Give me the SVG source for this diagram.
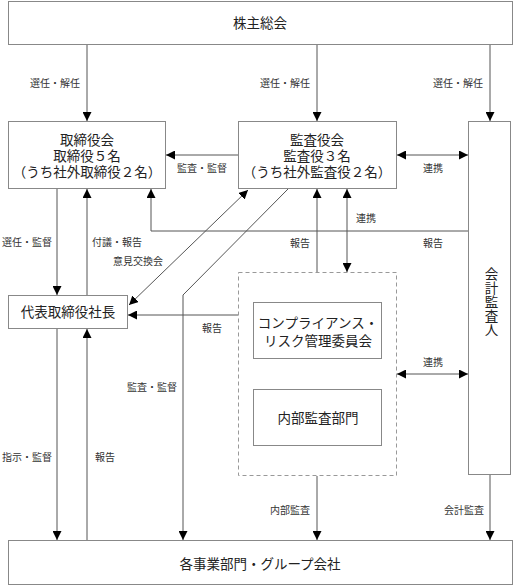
<svg xmlns="http://www.w3.org/2000/svg" width="514" height="586" viewBox="0 0 514 586">
<style>
.box{fill:#fff;stroke:#888;stroke-width:1}
.dash{fill:none;stroke:#999;stroke-width:1;stroke-dasharray:4,3}
.ln{fill:none;stroke:#555;stroke-width:1}
.t{font-family:"Liberation Serif","Noto Sans CJK JP",serif;font-size:13.5px;fill:#222;text-anchor:middle}
.v{font-family:"Liberation Serif","Noto Sans CJK JP",serif;font-size:13.5px;fill:#222;writing-mode:vertical-rl;text-anchor:start;letter-spacing:0.5px}
.l{font-family:"Liberation Serif","Noto Sans CJK JP",serif;font-size:10px;fill:#333}
.e{marker-end:url(#ah)}
.b{marker-start:url(#ah);marker-end:url(#ah)}
</style>
<defs>
<marker id="ah" markerUnits="userSpaceOnUse" markerWidth="9" markerHeight="9" refX="8" refY="4" orient="auto-start-reverse" viewBox="0 0 8 8">
<path d="M0,0 L8,4 L0,8 z" fill="#000"/>
</marker>
</defs>
<g id="connectors">
<line class="ln e" x1="87" y1="45" x2="87" y2="121"/>
<line class="ln e" x1="317" y1="45" x2="317" y2="121"/>
<line class="ln e" x1="490" y1="45" x2="490" y2="121"/>
<line class="ln e" x1="238" y1="155" x2="166" y2="155"/>
<line class="ln b" x1="397" y1="155" x2="468" y2="155"/>
<polyline class="ln e" points="468,231 151,231 151,189"/>
<line class="ln e" x1="317" y1="272" x2="317" y2="189"/>
<line class="ln b" x1="347" y1="189" x2="347" y2="272"/>
<line class="ln b" x1="248" y1="190" x2="129" y2="305"/>
<polyline class="ln e" points="288,189 183,295 183,540"/>
<line class="ln e" x1="57" y1="189" x2="57" y2="295"/>
<line class="ln e" x1="87" y1="295" x2="87" y2="189"/>
<line class="ln e" x1="238" y1="315" x2="128" y2="315"/>
<line class="ln e" x1="57" y1="329" x2="57" y2="540"/>
<line class="ln e" x1="87" y1="540" x2="87" y2="329"/>
<line class="ln b" x1="397" y1="374" x2="468" y2="374"/>
<line class="ln e" x1="317" y1="476" x2="317" y2="540"/>
<line class="ln e" x1="490" y1="475" x2="490" y2="540"/>
<text class="l" x="30" y="87">選任・解任</text>
<text class="l" x="260" y="87">選任・解任</text>
<text class="l" x="433" y="87">選任・解任</text>
<text class="l" x="177" y="172">監査・監督</text>
<text class="l" x="423" y="172">連携</text>
<text class="l" x="356" y="222">連携</text>
<text class="l" x="290" y="247">報告</text>
<text class="l" x="423" y="247">報告</text>
<text class="l" x="2" y="246">選任・監督</text>
<text class="l" x="92" y="246">付議・報告</text>
<text class="l" x="113" y="265">意見交換会</text>
<text class="l" x="202" y="332">報告</text>
<text class="l" x="127" y="391">監査・監督</text>
<text class="l" x="423" y="366">連携</text>
<text class="l" x="2" y="461">指示・監督</text>
<text class="l" x="95" y="461">報告</text>
<text class="l" x="270" y="514">内部監査</text>
<text class="l" x="444" y="514">会計監査</text>
</g>
<g id="shareholders">
<rect class="box" x="8.5" y="1.5" width="504" height="43"/>
<text class="t" x="260" y="28">株主総会</text>
</g>
<g id="board">
<rect class="box" x="8.5" y="121.5" width="157" height="67"/>
<text class="t" x="87" y="145">取締役会</text>
<text class="t" x="87" y="161">取締役５名</text>
<text class="t" x="87" y="177">（うち社外取締役２名）</text>
</g>
<g id="auditors">
<rect class="box" x="238.5" y="121.5" width="158" height="67"/>
<text class="t" x="317" y="145">監査役会</text>
<text class="t" x="317" y="161">監査役３名</text>
<text class="t" x="317" y="177">（うち社外監査役２名）</text>
</g>
<g id="accounting-auditor">
<rect class="box" x="468.5" y="121.5" width="42" height="353"/>
<text class="v" x="490" y="267">会計監査人</text>
</g>
<g id="president">
<rect class="box" x="8.5" y="295.5" width="119" height="33"/>
<text class="t" x="68" y="317">代表取締役社長</text>
</g>
<g id="internal-group">
<rect class="dash" x="238.5" y="272.5" width="158" height="203"/>
</g>
<g id="compliance">
<rect class="box" x="253.5" y="302.5" width="128" height="56"/>
<text class="t" x="318" y="328">コンプライアンス・</text>
<text class="t" x="318" y="346">リスク管理委員会</text>
</g>
<g id="internal-audit">
<rect class="box" x="253.5" y="389.5" width="128" height="56"/>
<text class="t" x="318" y="423">内部監査部門</text>
</g>
<g id="business">
<rect class="box" x="8.5" y="540.5" width="504" height="44"/>
<text class="t" x="260" y="569">各事業部門・グループ会社</text>
</g>
</svg>
